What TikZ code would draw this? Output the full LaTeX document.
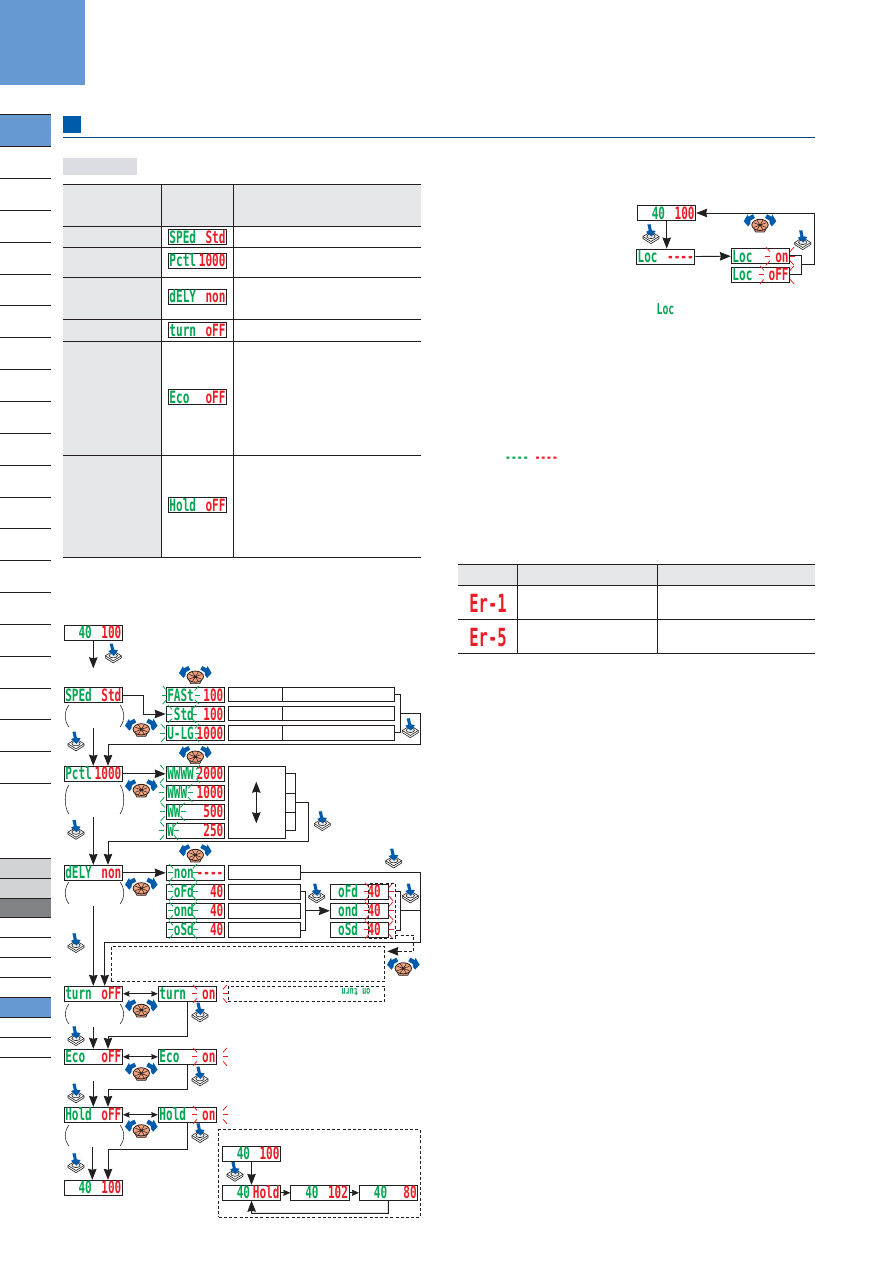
\documentclass[tikz,border=0pt]{standalone}
\usepackage{fontspec}
\usetikzlibrary{arrows.meta}
\newfontfamily\lcdf[FakeStretch=0.65]{DejaVu Sans Mono}
\newfontfamily\lcdb[FakeStretch=0.62]{DejaVu Sans Mono}
\definecolor{lk}{HTML}{231F20}
\definecolor{lg}{HTML}{00A651}
\definecolor{lr}{HTML}{ED1C24}
\definecolor{tabblue}{HTML}{6699D2}
\definecolor{navy}{HTML}{005BAB}
\definecolor{cellg}{HTML}{E6E7E8}
\definecolor{labg}{HTML}{DCDDE3}
\definecolor{tabl}{HTML}{D1D3D4}
\definecolor{tabd}{HTML}{808285}
\definecolor{dialo}{HTML}{F4A27C}
\tikzset{
  lcdbox/.style={draw=lk,fill=white,line width=.9pt,minimum width=58.4pt,minimum height=15pt,inner sep=0pt},
  blankbox/.style={draw=lk,fill=white,line width=.9pt,inner sep=0pt},
  lcdtxt/.style={inner sep=0pt,font=\lcdf\bfseries\fontsize{17}{17}\selectfont},
  conn/.style={draw=lk,line width=.9pt},
  bigarrow/.style={conn,-{Stealth[length=11pt,width=8.5pt,inset=1pt]}},
  smallboth/.style={conn,{Stealth[length=6.5pt,width=5.5pt,inset=.5pt]}-{Stealth[length=6.5pt,width=5.5pt,inset=.5pt]}},
  smallarrow/.style={conn,-{Stealth[length=7pt,width=6pt,inset=.5pt]}},
  dashline/.style={draw=lk,line width=.8pt,dash pattern=on 3pt off 2.2pt},
  tabrule/.style={draw=lk,line width=.9pt},
  ray/.style={line width=.75pt},
}
% box with a green left and a red right reading
\newcommand\lcd[5]{%
  \node[lcdbox] (#1) at (#2,#3) {};
  \node[lcdtxt,text=lg,anchor=base west] (#1-l) at ([xshift=1.4pt,yshift=-6pt]#1.west) {#4};
  \node[lcdtxt,text=lr,anchor=base east] (#1-r) at ([xshift=-1.4pt,yshift=-6pt]#1.east) {#5};
}
\newcommand\blankrect[5]{\node[blankbox,minimum width=#4pt,minimum height=#5pt] (#1) at (#2,#3) {};}
\newcommand\rays[4]{%
  \begin{scope}[shift={(#2,#3)},ray,draw=#1]
    \draw (-#4,0) -- ++(-5,0);
    \draw (#4,0) -- ++(5,0);
    \foreach \sx in {-1,1}{\foreach \sy in {-1,1}{\draw (\sx*#4,\sy*4.5) -- ++(\sx*4,\sy*4.5);}}
  \end{scope}}
\newcommand\brackets[2]{%
  \draw[conn,line width=.55pt] (69,#1) .. controls (64,#1+6) and (64,#2-6) .. (69,#2);
  \draw[conn,line width=.55pt] (120,#1) .. controls (125,#1+6) and (125,#2-6) .. (120,#2);
}
\newcommand\myBtn[2]{%
  \begin{scope}[shift={(#1,#2)}]
    \draw[lk,fill=white,line width=.6pt] (-8,1.5) -- (-8,3.6) -- (0,8.6) -- (8,3.6) -- (8,1.5) -- (0,-3.5) -- cycle;
    \draw[lk,line width=.6pt] (-8,1.5) -- (0,6.5) -- (8,1.5);
    \draw[lk,fill=black!8,line width=.6pt] (0,1.3) ellipse (4.2 and 2.3);
    \fill[navy] (-3.6,-10.5) -- (-.4,-10.8) -- (.8,-4.6) -- (4.6,-4) -- (.6,1.6) -- (-5,-3.2) -- (-2.2,-4.4) -- cycle;
  \end{scope}}
\newcommand\myDial[2]{%
  \begin{scope}[shift={(#1,#2)}]
    \draw[lk,fill=dialo,line width=.7pt] (-6.5,4.5) -- (-4.5,8.6) -- (4.5,8.6) -- (6.5,4.5) -- cycle;
    \draw[lk,fill=dialo,line width=.8pt] (0,1.6) ellipse (8.2 and 5.6);
    \draw[lk,line width=.55pt] (-6,-.5) -- (6,4) (-6,4) -- (6,-.5) (-3,-3) -- (3,6.5) (3,-3) -- (-3,6.5);
    \foreach \m in {1,-1}{
      \begin{scope}[xscale=\m]
        \fill[navy] (-16.3,-2) -- (-12.2,-9) -- (-11.6,-6.6) -- (-7,-9) -- (-5,-5.3) -- (-9.4,-2.8) -- (-9.8,.3) -- (-11.8,3) -- cycle;
      \end{scope}}
  \end{scope}}
\begin{document}
\begin{tikzpicture}[x=1pt,y=-1pt,line cap=butt]
\useasboundingbox (0,0) rectangle (892,1261);
\fill[white] (0,0) rectangle (892,1261);
% page furniture
\fill[tabblue] (0,0) rectangle (85,85);
\fill[tabblue] (0,114.3) rectangle (51,146.3);
\fill[tabl] (0,858.3) rectangle (51,898.3);
\fill[tabd] (0,898.3) rectangle (51,917.3);
\fill[tabblue] (0,997.3) rectangle (51,1017.3);
\foreach \yy in {114.3,146.3,178.3,210.3,242.3,274.3,305.3,337.3,369.5,401.5,433.5,465,497,528.5,560,592,624,656,688,719.5,751.5,783.5,858.3,878.3,898.3,917.3,937.3,957.3,977.3,997.3,1017.3,1037.3,1057.3}
  \draw[tabrule] (0,\yy) -- (51,\yy);
\fill[navy] (63,116) rectangle (81,133);
\draw[navy!75!black,line width=.8pt] (63,137.3) -- (815,137.3);
\fill[labg] (63,158) rectangle (137,175);
% function table
\fill[cellg] (63,184) rectangle (420.7,226);
\fill[cellg] (63,226) rectangle (161.3,557.3);
\foreach \yy in {184,226,247.3,277,319.3,341.3,455.3,557.3}
  \draw[tabrule] (63,\yy) -- (420.7,\yy);
\draw[tabrule] (161.3,184) -- (161.3,557.3);
\draw[tabrule] (233.3,184) -- (233.3,557.3);
\lcd{tsp}{197.5}{237}{SPEd}{Std}
\lcd{tpc}{197.5}{260.8}{Pctl}{1000}
\lcd{tdl}{197.5}{296.8}{dELY}{non}
\lcd{ttu}{197.5}{330.3}{turn}{oFF}
\lcd{tec}{197.5}{397}{Eco}{oFF}
\lcd{tho}{197.5}{505}{Hold}{oFF}
% error table
\fill[cellg] (458,564.3) rectangle (815,585.3);
\foreach \yy in {564.3,585.3,619.3,653.3}
  \draw[tabrule] (458,\yy) -- (815,\yy);
\draw[tabrule] (517.3,564.3) -- (517.3,653.3);
\draw[tabrule] (657.3,564.3) -- (657.3,653.3);
\node[text=lr,inner sep=0pt,anchor=base,font=\lcdb\bfseries\fontsize{25}{25}\selectfont] (er1) at (488,612) {Er-1};
\node[text=lr,inner sep=0pt,anchor=base,font=\lcdb\bfseries\fontsize{25}{25}\selectfont] (er5) at (488,646) {Er-5};
% small inline readings on the right
\node[lcdtxt,text=lg,anchor=base,font=\lcdf\bfseries\fontsize{15}{15}\selectfont] (locword) at (665.5,314) {Loc};
\node[lcdtxt,text=lg,anchor=base west,font=\lcdf\bfseries\fontsize{15}{15}\selectfont] (dashg) at (505,462) {----};
\node[lcdtxt,text=lr,anchor=base west,font=\lcdf\bfseries\fontsize{15}{15}\selectfont] (dashr) at (534.3,462) {----};
% lock flow
\lcd{lhome}{666.5}{213}{\phantom{00}40}{100}
\lcd{lloc}{665.7}{256.5}{Loc}{----}
\lcd{lon}{760.5}{256.2}{Loc}{on}
\lcd{loff}{760.5}{274.8}{Loc}{oFF}
\rays{lr}{780}{256.2}{10}
\rays{lr}{777}{274.8}{13}
\coordinate (lbt) at (801.7,255);
\coordinate (lbb) at (801.7,274.7);
\coordinate (lbm) at (801.7,264.3);
\coordinate (lcr) at (814.7,264.3);
\coordinate (lct) at (814.7,213);
\draw[bigarrow] (lhome.south -| 666.7,0) -- (lloc.north -| 666.7,0);
\draw[bigarrow] (lloc.east) -- (lon.west);
\draw[conn] (lon.east |- lbt) -- (lbt) -- (lbb) -- (loff.east |- lbb);
\draw[bigarrow] (lbm) -- (lcr) -- (lct) -- (lhome.east);
\myDial{760}{223.3}
\myBtn{651}{235}
\myBtn{802.7}{241}
% left column
\lcd{start}{93.3}{632.8}{\phantom{00}40}{100}
\lcd{sped}{93.3}{695}{SPEd}{Std}
\lcd{pctl}{93.3}{773.8}{Pctl}{1000}
\lcd{dely}{93.3}{872.8}{dELY}{non}
\lcd{turnoff}{93.3}{993.8}{turn}{oFF}
\lcd{ecooff}{93.3}{1056.8}{Eco}{oFF}
\lcd{holdoff}{93.3}{1114.8}{Hold}{oFF}
\lcd{final}{93.3}{1187.8}{\phantom{00}40}{100}
\brackets{705}{727}
\brackets{785}{814}
\brackets{882}{904}
\brackets{1004}{1024}
\brackets{1125}{1146}
% speed options
\lcd{fast}{195.3}{695}{FASt}{100}
\lcd{stdv}{195.3}{714}{\phantom{.}Std}{100}
\lcd{ulg}{195.3}{733}{U-LG}{1000}
\rays{lg}{180.7}{695}{14}
\rays{lg}{182}{714}{10}
\rays{lg}{180}{733}{15}
\blankrect{fb1}{311.3}{694.5}{166}{13.6}
\blankrect{fb2}{311.3}{713.5}{166}{13.6}
\blankrect{fb3}{311.3}{733}{166}{14.6}
\draw[conn] (282.3,687.7) -- (282.3,701.3) (282.3,706.7) -- (282.3,720.3) (282.3,725.7) -- (282.3,740.3);
\coordinate (sa) at (400.3,694.5);
\coordinate (sb) at (400.3,732.3);
\coordinate (sc) at (400.3,713.3);
\coordinate (sd) at (420.3,744.3);
\coordinate (se) at (108,744.3);
\draw[conn] (fb1.east |- sa) -- (sa) -- (sb) -- (fb3.east |- sb);
\draw[bigarrow] (sc) -| (sd) -- (se) -- (se |- pctl.north);
\draw[bigarrow] (sped.east) -- ++(20.4,0) |- (stdv.west);
\coordinate (a0) at (93.3,668.3);
\draw[bigarrow] (start.south) -- (a0);
\coordinate (a1) at (93.3,728);
\draw[bigarrow] (a1) -- (pctl.north);
% packet options
\lcd{w4}{195.3}{773.8}{WWWW}{2000}
\lcd{w3}{195.3}{792.8}{WWW}{1000}
\lcd{w2}{195.3}{811.8}{WW}{500}
\lcd{w1}{195.3}{830.8}{W}{250}
\rays{lg}{180}{773.8}{16}
\rays{lg}{176.3}{792.8}{12}
\rays{lg}{172.7}{811.8}{8}
\rays{lg}{169}{830.8}{5}
\blankrect{pbox}{257}{802.5}{57.4}{72.4}
\coordinate (pu) at (256.3,781.7);
\coordinate (pd) at (256.3,823.3);
\draw[conn,{Stealth[length=11pt,width=8.5pt,inset=1pt]}-{Stealth[length=11pt,width=8.5pt,inset=1pt]}] (pu) -- (pd);
\coordinate (pa) at (295.3,773.3);
\coordinate (pb) at (295.3,830.3);
\coordinate (pm1) at (295.3,793.3);
\coordinate (pm2) at (295.3,812.3);
\coordinate (pc) at (295.3,802.3);
\coordinate (pd2) at (308.3,841.3);
\coordinate (pe) at (108,841.3);
\draw[conn] (pbox.east |- pa) -- (pa) -- (pb) -- (pbox.east |- pb);
\draw[conn] (pbox.east |- pm1) -- (pm1) (pbox.east |- pm2) -- (pm2);
\draw[bigarrow] (pc) -| (pd2) -- (pe) -- (pe |- dely.north);
\draw[bigarrow] (pctl.east) -- (w4.west);
\coordinate (a2) at (93.3,817.3);
\draw[bigarrow] (a2) -- (dely.north);
% delay options
\lcd{dnon}{195.3}{872.8}{\phantom{.}non}{----}
\lcd{dofd}{195.3}{891.8}{\phantom{.}oFd}{40}
\lcd{dond}{195.3}{910.8}{\phantom{.}ond}{40}
\lcd{dosd}{195.3}{929.8}{\phantom{.}oSd}{40}
\foreach \yy in {872.8,891.8,910.8,929.8}{\rays{lg}{183}{\yy}{10}}
\blankrect{db1}{264.5}{872.3}{72.4}{14}
\blankrect{db2}{264.5}{892}{72.4}{14.6}
\blankrect{db3}{264.5}{911}{72.4}{14.6}
\blankrect{db4}{264.5}{930}{72.4}{14.6}
\coordinate (dm1) at (305.3,891.7);
\coordinate (dm2) at (305.3,930);
\coordinate (dm) at (305.3,910.8);
\draw[conn] (db2.east |- dm1) -- (dm1) -- (dm2) -- (db4.east |- dm2);
\lcd{tofd}{359.5}{891.8}{\phantom{.}oFd}{40\phantom{.}}
\lcd{tond}{359.5}{910.8}{\phantom{.}ond}{40\phantom{.}}
\lcd{tosd}{359.5}{929.8}{\phantom{.}oSd}{40\phantom{.}}
\foreach \yy in {891.8,910.8,929.8}{\rays{lr}{379}{\yy}{10}}
\draw[bigarrow] (dm) -- (tond.west);
\node[draw=lk,line width=.8pt,dash pattern=on 3pt off 2.2pt,inner sep=0pt,minimum width=26.6pt,minimum height=55pt] (flashbox) at (382,910.8) {};
\draw[bigarrow] (dely.east) -- (dnon.west);
\coordinate (na) at (420.3,942.3);
\coordinate (nb) at (104.7,942.3);
\draw[bigarrow] (db1.east) -| (na) -- (nb) -- (nb |- turnoff.north);
\coordinate (ba) at (400.3,891.7);
\coordinate (bb) at (400.3,930);
\coordinate (bc) at (400.3,910.7);
\draw[conn] (flashbox.east |- ba) -- (ba) -- (bb) -- (flashbox.east |- bb);
\draw[conn] (bc) -- (bc -| na);
\coordinate (da) at (395.3,935);
\coordinate (db) at (413.7,935);
\coordinate (dc) at (413.7,951.3);
\draw[dashline] (da) -- (db) -- (dc) -- (390,951.3);
\coordinate (dtip) at (387.3,951.3);
\draw[bigarrow] (398.5,951.3) -- (dtip);
\node[dashline,minimum width=273.4pt,minimum height=35pt,inner sep=0pt] (dnote) at (248,963.8) {};
\coordinate (a3) at (93.3,906);
\draw[bigarrow] (a3) -- (turnoff.north);
% on / off rows
\lcd{turnon}{187.5}{993.8}{turn}{on}
\lcd{ecoon}{187.5}{1056.8}{Eco}{on}
\lcd{holdon}{187.5}{1114.8}{Hold}{on}
\rays{lr}{210}{993.8}{13}
\rays{lr}{210}{1056.8}{13}
\rays{lr}{210}{1114.8}{13}
\draw[smallboth] (turnoff.east) -- (turnon.west);
\draw[smallboth] (ecooff.east) -- (ecoon.west);
\draw[smallboth] (holdoff.east) -- (holdon.west);
\node[dashline,minimum width=156.4pt,minimum height=15pt,inner sep=0pt] (tnote) at (306.5,993.8) {};
\node[text=lg,inner sep=0pt,rotate=180,font=\lcdf\bfseries\fontsize{10.5}{10.5}\selectfont] (tnotetxt) at (356,992.3) {on turn};
\coordinate (j1) at (108,1036.3);
\coordinate (j2) at (108,1089.3);
\coordinate (j3) at (108,1149.3);
\draw[bigarrow] (turnon.south) |- (j1) -- (j1 |- ecooff.north);
\draw[bigarrow] (ecoon.south) |- (j2) -- (j2 |- holdoff.north);
\draw[bigarrow] (holdon.south) |- (j3) -- (j3 |- final.north);
\coordinate (a4) at (93.3,1027);
\coordinate (a5) at (93.3,1081);
\coordinate (a6) at (92.3,1147);
\draw[bigarrow] (a4) -- (ecooff.north);
\draw[bigarrow] (a5) -- (holdoff.north);
\draw[bigarrow] (a6) -- (a6 |- final.north);
% hold inset
\node[dashline,minimum width=201.6pt,minimum height=87.6pt,inner sep=0pt] (hbox) at (319.5,1173.5) {};
\lcd{h1}{251.5}{1153.6}{\phantom{00}40}{100}
\lcd{h2}{251.5}{1192.8}{\phantom{00}40}{Hold}
\lcd{h3}{320}{1192.8}{\phantom{00}40}{102}
\lcd{h4}{388.7}{1192.8}{\phantom{00}40}{80}
\draw[bigarrow] (h1.south) -- (h2.north);
\draw[smallarrow] (h2.east) -- (h3.west);
\draw[smallarrow] (h3.east) -- (h4.west);
\coordinate (hl) at (388.3,1213.3);
\coordinate (hr) at (251.7,1213.3);
\draw[bigarrow] (h4.south -| hl) -- (hl) -- (hr) -- (h2.south);
% operation symbols
\myBtn{113.3}{654.3}
\myBtn{76}{742.3}
\myBtn{410.3}{729}
\myBtn{76}{830.7}
\myBtn{322.3}{822}
\myBtn{393.7}{859.3}
\myBtn{316.7}{894.3}
\myBtn{410.3}{894.3}
\myBtn{76}{944}
\myBtn{200}{1013.3}
\myBtn{76}{1037}
\myBtn{200}{1077.3}
\myBtn{76}{1094.3}
\myBtn{200}{1134}
\myBtn{76}{1164}
\myBtn{235}{1172.7}
\myDial{195.3}{675}
\myDial{141.3}{727.7}
\myDial{195.3}{755}
\myDial{141.3}{788.3}
\myDial{195.3}{853.3}
\myDial{141.3}{886.7}
\myDial{403.3}{966.7}
\myDial{141.3}{1008.3}
\myDial{141.3}{1071.7}
\myDial{141.3}{1128.7}
\end{tikzpicture}
\end{document}
